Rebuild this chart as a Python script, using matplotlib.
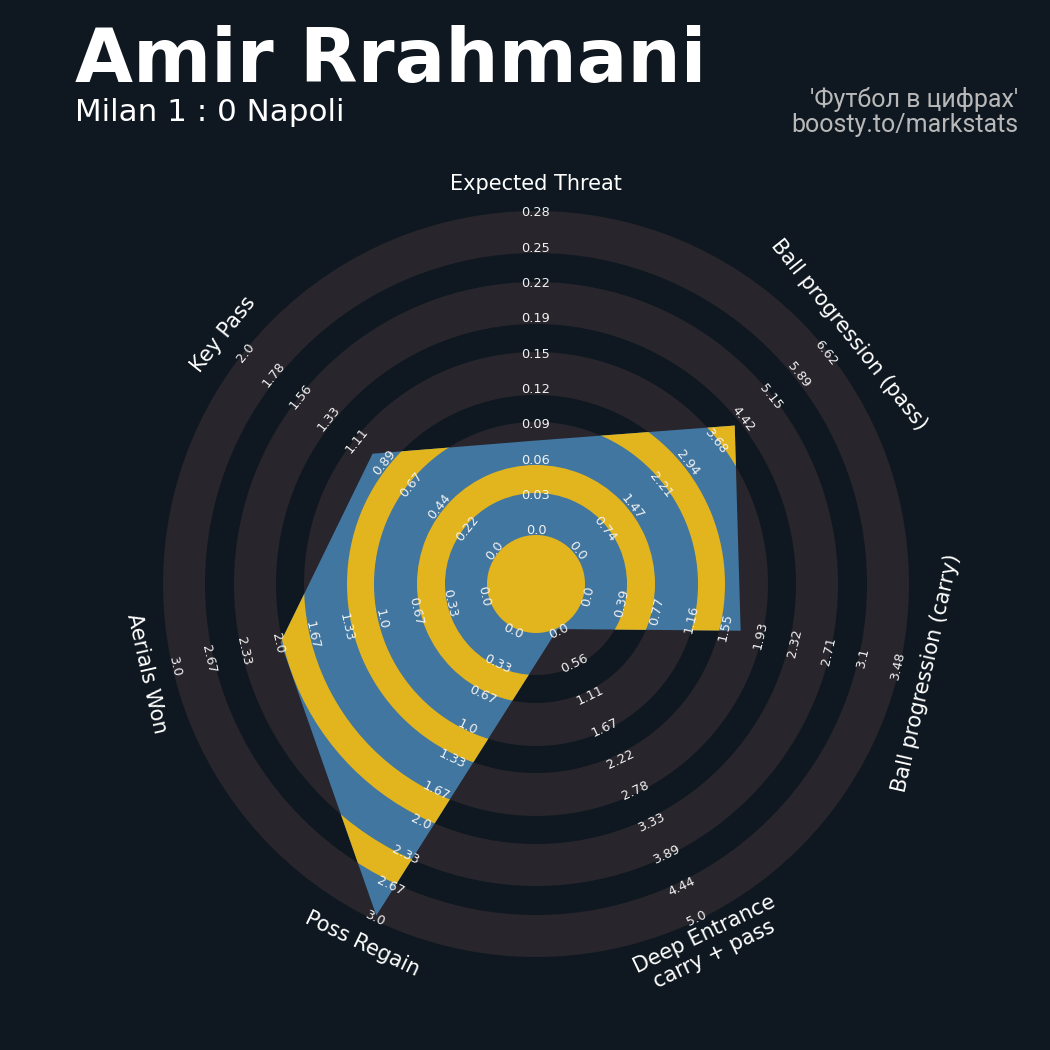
import numpy as np
import matplotlib
matplotlib.use("Agg")
import matplotlib.pyplot as plt
from matplotlib.patches import Wedge, Circle, Polygon

# radar data
params = ["Expected Threat", "Ball progression (pass)", "Ball progression (carry)",
          "Deep Entrance\ncarry + pass", "Poss Regain", "Aerials Won", "Key Pass"]
low = [0.0, 0.0, 0.0, 0.0, 0.0, 0.0, 0.0]
high = [0.279, 6.62, 3.48, 5.0, 3.0, 3.0, 2.0]
values = [0.082, 4.25, 1.75, 0.0, 3.0, 2.0, 1.0]

xt_ticks = ["0.0", "0.03", "0.06", "0.09", "0.12", "0.15", "0.19", "0.22", "0.25", "0.28"]
pass_ticks = ["0.0", "0.74", "1.47", "2.21", "2.94", "3.68", "4.42", "5.15", "5.89", "6.62"]
carry_ticks = ["0.0", "0.39", "0.77", "1.16", "1.55", "1.93", "2.32", "2.71", "3.1", "3.48"]
deep_ticks = ["0.0", "0.56", "1.11", "1.67", "2.22", "2.78", "3.33", "3.89", "4.44", "5.0"]
regain_ticks = ["0.0", "0.33", "0.67", "1.0", "1.33", "1.67", "2.0", "2.33", "2.67", "3.0"]
aerial_ticks = ["0.0", "0.33", "0.67", "1.0", "1.33", "1.67", "2.0", "2.33", "2.67", "3.0"]
keypass_ticks = ["0.0", "0.22", "0.44", "0.67", "0.89", "1.11", "1.33", "1.56", "1.78", "2.0"]
tick_lists = [xt_ticks, pass_ticks, carry_ticks, deep_ticks, regain_ticks, aerial_ticks, keypass_ticks]

title = "Amir Rrahmani"
subtitle = "Milan 1 : 0 Napoli"
credit = "'Футбол в цифрах'\nboosty.to/markstats"

# colours
BG = "#0f1820"
RING = "#28252c"
BLUE = "#4176a0"
YELLOW = "#e2b41e"

# geometry (axes units == pixels, radar centre at origin)
edges = [49, 91, 119, 162, 189, 232, 260, 302, 331, 373]
r_min, r_max = 50, 368
label_r = 400


def radius(v, lo, hi):
    return r_min + (v - lo) / (hi - lo) * (r_max - r_min)


def text_rot(theta):
    rot = -theta
    if 90 < theta < 270:
        rot += 180
    return rot


fig = plt.figure(figsize=(10.5, 10.5), dpi=100, facecolor=BG)
ax = fig.add_axes([0, 0, 1, 1])
ax.set_facecolor(BG)
ax.set_xlim(-536, 514)
ax.set_ylim(-466, 584)
ax.set_aspect("equal")
ax.axis("off")

# background rings
for i in range(0, len(edges), 2):
    ax.add_patch(Wedge((0, 0), edges[i + 1], 0, 360, width=edges[i + 1] - edges[i],
                       facecolor=RING, edgecolor="none", zorder=1))

n = len(params)
thetas = np.arange(n) * 360.0 / n

# radar polygon
verts = []
for th, v, lo, hi in zip(thetas, values, low, high):
    r = radius(v, lo, hi)
    verts.append((r * np.sin(np.radians(th)), r * np.cos(np.radians(th))))
poly = Polygon(verts, closed=True, facecolor=BLUE, edgecolor="none", zorder=2)
ax.add_patch(poly)

# inner rings clipped to radar
inner = [Circle((0, 0), edges[0], facecolor=YELLOW, edgecolor="none", zorder=3)]
for i in range(1, len(edges) - 1, 2):
    inner.append(Wedge((0, 0), edges[i + 1], 0, 360, width=edges[i + 1] - edges[i],
                       facecolor=YELLOW, edgecolor="none", zorder=3))
for p in inner:
    ax.add_patch(p)
    p.set_clip_path(poly)

# range labels
for th, ticks in zip(thetas, tick_lists):
    s, c = np.sin(np.radians(th)), np.cos(np.radians(th))
    for k, lab in enumerate(ticks):
        r = r_min + k / (len(ticks) - 1) * (r_max - r_min) + 3
        ax.text(r * s, r * c, lab, fontsize=9.3, color="#f2f2f2", ha="center", va="center",
                rotation=text_rot(th), rotation_mode="anchor", zorder=5)

# parameter labels
for th, name in zip(thetas, params):
    s, c = np.sin(np.radians(th)), np.cos(np.radians(th))
    ax.text(label_r * s, label_r * c, name, fontsize=15, color="white", ha="center",
            va="center", rotation=text_rot(th), rotation_mode="anchor",
            multialignment="center", linespacing=1.1, zorder=5)

# titles
fig.text(75 / 1050, 1 - 82 / 1050, title, fontsize=54, fontweight="bold", color="white",
         ha="left", va="baseline")
fig.text(75 / 1050, 1 - 121 / 1050, subtitle, fontsize=22.3, color="white",
         ha="left", va="baseline")
fig.text(1018 / 1050, 1 - 132 / 1050, credit, fontsize=18, color="#b8b8b8",
         family=["Roboto", "DejaVu Sans"], ha="right", va="baseline",
         multialignment="right", linespacing=1.05)

fig.savefig("out.png", dpi=100, facecolor=BG)
